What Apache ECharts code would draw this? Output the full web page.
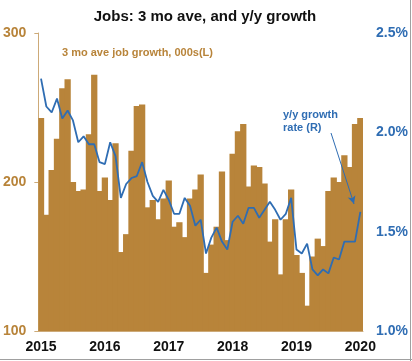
<!DOCTYPE html>
<html>
<head>
<meta charset="utf-8">
<script src="https://cdn.jsdelivr.net/npm/echarts@6/dist/echarts.min.js"></script>
<style>
html,body{margin:0;padding:0;background:#fff;}
#chart{width:412px;height:361px;}
</style>
</head>
<body>
<div id="chart"></div>
<script>
const months = [];
for (let y = 2015; y <= 2020; y++) {
  for (let m = 1; m <= 12; m++) {
    if (y === 2020 && m > 1) break;
    months.push(y + '-' + (m < 10 ? '0' + m : m));
  }
}
const jobs3mo = [243,178,208,229,263,269,200,194,195,232,272,194,203,188,226,153,165,221,251,252,
  183,188,175,189,201,170,173,163,189,195,205,139,158,170,207,161,219,234,239,197,
  211,210,199,160,175,138,175,195,151,139,117,150,162,157,194,203,200,218,210,239,243];
const yyGrowth = [2.27,2.13,2.10,2.17,2.07,2.11,2.06,1.95,1.98,1.94,1.94,1.85,1.84,1.95,1.88,1.67,1.74,1.77,1.78,1.85,
  1.75,1.68,1.65,1.71,1.66,1.59,1.59,1.67,1.63,1.53,1.56,1.39,1.47,1.52,1.45,1.41,1.55,1.58,1.54,1.62,
  1.62,1.57,1.61,1.65,1.61,1.56,1.59,1.67,1.41,1.39,1.44,1.31,1.28,1.31,1.29,1.37,1.36,1.45,1.45,1.45,1.60];
const leftTicks = [100, 200, 300];
const rightTicks = [1.0, 1.5, 2.0, 2.5];

const GOLD = '#B8843A';
const BLUE = '#2F6DB3';
const FONT = 'Liberation Sans, Arial, sans-serif';

const chart = echarts.init(document.getElementById('chart'), null, {renderer: 'canvas'});
chart.setOption({
  animation: false,
  backgroundColor: '#fff',
  title: {
    text: 'Jobs: 3 mo ave, and y/y growth',
    left: 200, textAlign: 'center', top: 4,
    textStyle: {fontFamily: FONT, fontSize: 15, fontWeight: 'bold', color: '#111'}
  },
  grid: {left: 38, right: 49, top: 33, bottom: 30},
  xAxis: {
    type: 'category',
    data: months,
    boundaryGap: true,
    axisLine: {show: true, lineStyle: {color: '#CDAA78', width: 1}},
    axisTick: {show: false},
    axisLabel: {
      interval: (i) => i % 12 === 0,
      formatter: (v) => v.slice(0, 4),
      margin: 9,
      fontFamily: FONT, fontSize: 14, fontWeight: 'bold', color: '#111'
    },
    splitLine: {show: false}
  },
  yAxis: [
    {
      type: 'value', min: leftTicks[0], max: leftTicks[leftTicks.length - 1], interval: 100,
      position: 'left',
      axisLine: {show: true, lineStyle: {color: '#CDAA78', width: 1}},
      axisTick: {show: true, length: 4, inside: false, lineStyle: {color: '#CDAA78'}},
      axisLabel: {margin: 12, fontFamily: FONT, fontSize: 14, fontWeight: 'bold', color: GOLD},
      splitLine: {show: false}
    },
    {
      type: 'value', min: rightTicks[0], max: rightTicks[rightTicks.length - 1], interval: 0.5,
      position: 'right',
      axisLine: {show: false},
      axisTick: {show: false},
      axisLabel: {margin: 13, formatter: (v) => v.toFixed(1) + '%', fontFamily: FONT, fontSize: 14, fontWeight: 'bold', color: BLUE},
      splitLine: {show: false}
    }
  ],
  series: [
    {
      name: '3 mo ave job growth, 000s(L)',
      type: 'bar',
      data: jobs3mo,
      yAxisIndex: 0,
      barWidth: '118%',
      itemStyle: {color: GOLD},
      silent: true
    },
    {
      name: 'y/y growth rate (R)',
      type: 'line',
      data: yyGrowth,
      yAxisIndex: 1,
      showSymbol: false,
      symbol: 'none',
      lineStyle: {color: BLUE, width: 1.8},
      silent: true,
      markLine: {
        silent: true,
        symbol: ['none', 'arrow'],
        symbolSize: [6, 8],
        label: {show: false},
        lineStyle: {color: BLUE, width: 1, type: 'solid'},
        data: [[{x: 331, y: 133}, {x: 354, y: 204}]]
      }
    }
  ],
  graphic: [
    {type: 'text', left: 62, top: 47, style: {text: '3 mo ave job growth, 000s(L)', fill: GOLD, font: 'bold 11px ' + FONT}},
    {type: 'text', left: 283, top: 108, style: {text: 'y/y growth\nrate (R)', fill: BLUE, font: 'bold 11px ' + FONT, lineHeight: 13}},
    {type: 'line', shape: {x1: 410.5, y1: 0, x2: 410.5, y2: 361}, style: {stroke: '#A0A0A0', lineWidth: 1}},
    {type: 'line', shape: {x1: 0, y1: 359.5, x2: 412, y2: 359.5}, style: {stroke: '#A0A0A0', lineWidth: 1}}
  ]
});
</script>
</body>
</html>
